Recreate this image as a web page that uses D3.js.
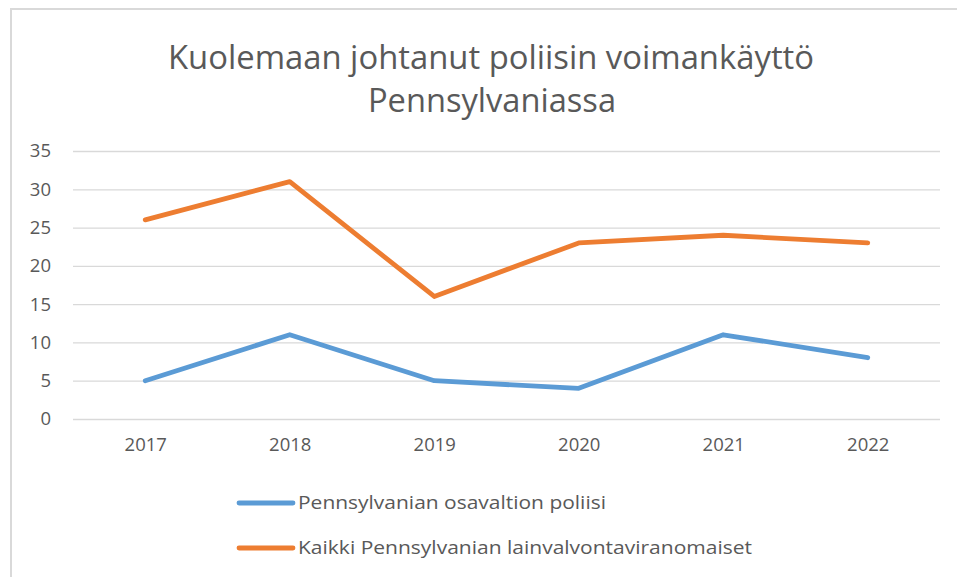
<!DOCTYPE html>
<html><head><meta charset="utf-8">
<script src="https://cdn.jsdelivr.net/npm/d3@7"></script>
<style>
html,body{margin:0;padding:0;background:#fff;}
svg{display:block;}
text{font-family:"Open Sans",sans-serif;fill:#595959;}
</style></head>
<body>
<svg id="chart" width="957" height="577"></svg>
<script>
const years = ["2017","2018","2019","2020","2021","2022"];
const stateSeries = [5, 11, 5, 4, 11, 8];
const allSeries = [26, 31, 16, 23, 24, 23];
const yTicks = [0, 5, 10, 15, 20, 25, 30, 35];
const seriesNames = ["Pennsylvanian osavaltion poliisi", "Kaikki Pennsylvanian lainvalvontaviranomaiset"];
const titleLines = ["Kuolemaan johtanut poliisin voimankäyttö", "Pennsylvaniassa"];
const colors = ["#5B9BD5", "#ED7D31"];

const svg = d3.select("#chart");

// outer border
svg.append("path").attr("d","M11,577 V9 H957").attr("fill","none").attr("stroke","#d9d9d9").attr("stroke-width",2);

// title
svg.append("text").attr("x",491).attr("y",69).attr("text-anchor","middle").attr("font-size",32)
  .attr("textLength",646).attr("lengthAdjust","spacingAndGlyphs").text(titleLines[0]);
svg.append("text").attr("x",492).attr("y",112).attr("text-anchor","middle").attr("font-size",32)
  .attr("textLength",248).attr("lengthAdjust","spacingAndGlyphs").text(titleLines[1]);

const x = d3.scalePoint().domain(years).range([73,940]).padding(0.5);
const y = d3.scaleLinear().domain([0,35]).range([419,151]);

// gridlines
const grid = svg.append("g").attr("transform","translate(73,0)")
  .call(d3.axisLeft(y).tickValues(yTicks).tickSize(-867).tickFormat(""));
grid.select(".domain").remove();
grid.selectAll(".tick line").attr("stroke","#d9d9d9").attr("stroke-width",1.3);

// y labels
const yl = svg.append("g").attr("transform","translate(51,0)")
  .call(d3.axisLeft(y).tickValues(yTicks).tickSize(0).tickPadding(0));
yl.select(".domain").remove();
yl.selectAll("text").attr("font-size",18.5).attr("fill","#595959").attr("font-family","Open Sans, sans-serif");

// x labels
const xl = svg.append("g").attr("transform","translate(0,430)")
  .call(d3.axisBottom(x).tickSize(0).tickPadding(8));
xl.select(".domain").remove();
xl.selectAll("text").attr("font-size",18.5).attr("fill","#595959").attr("font-family","Open Sans, sans-serif");

const line = d3.line().x((d,i)=>x(years[i])).y(d=>y(d));
[stateSeries, allSeries].forEach((s,k)=>{
  svg.append("path").datum(s).attr("d",line).attr("fill","none")
    .attr("stroke",colors[k]).attr("stroke-width",4.8)
    .attr("stroke-linecap","round").attr("stroke-linejoin","round");
});

// legend
const legY = [503, 548];
const legW = [308, 454];
seriesNames.forEach((n,k)=>{
  svg.append("line").attr("x1",239).attr("x2",293).attr("y1",legY[k]).attr("y2",legY[k])
    .attr("stroke",colors[k]).attr("stroke-width",4.8).attr("stroke-linecap","round");
  svg.append("text").attr("x",298).attr("y",legY[k]+6).attr("font-size",18)
    .attr("textLength",legW[k]).attr("lengthAdjust","spacingAndGlyphs").text(n);
});
</script>
</body></html>
